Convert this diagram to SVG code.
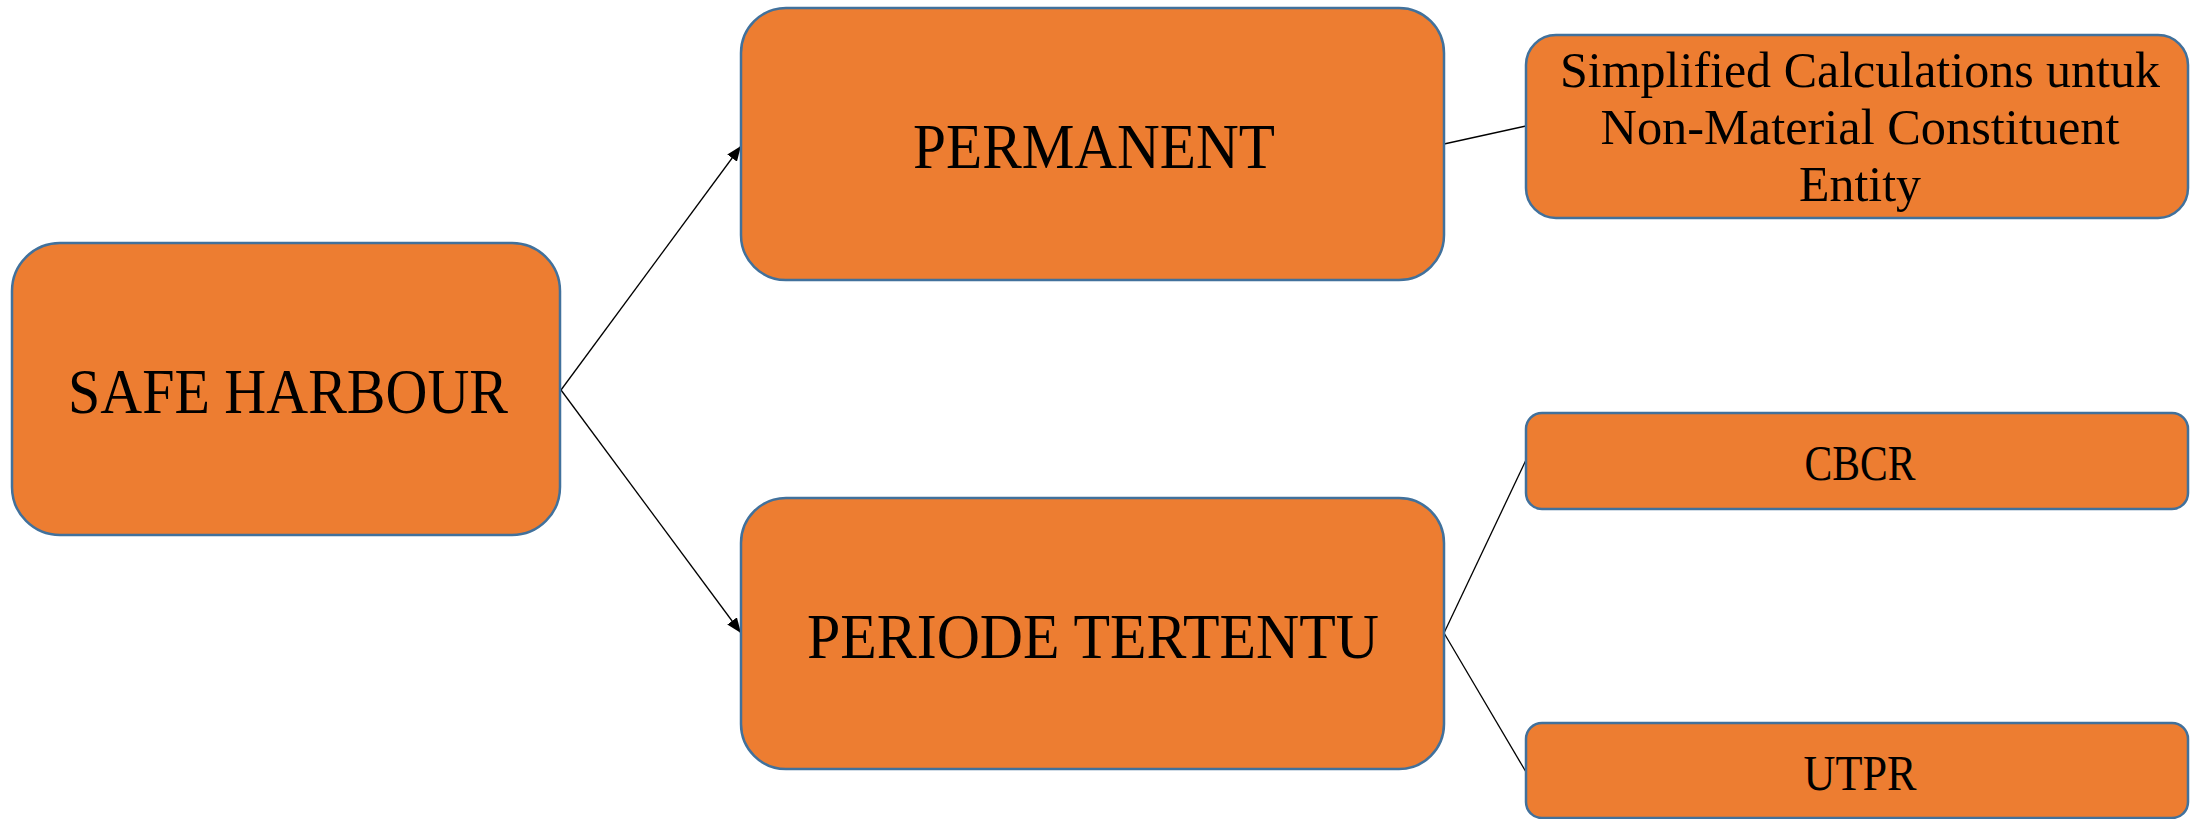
<svg xmlns="http://www.w3.org/2000/svg" width="2190" height="819" viewBox="0 0 2190 819">
  <style>
    .box { fill: #ED7D31; stroke: #41719C; stroke-width: 2.5; }
    .lbl { font-family: "Liberation Serif", "Times New Roman", serif; fill: #000; text-anchor: middle; }
    .big { font-size: 64px; }
    .small { font-size: 50px; }
    .link { stroke: #000; stroke-width: 1.3; fill: none; }
  </style>
  <defs>
    <marker id="arrow" markerUnits="userSpaceOnUse" markerWidth="16" markerHeight="12" refX="15" refY="6" orient="auto">
      <path d="M0 0 L15 6 L0 12 Z" fill="#000"/>
    </marker>
  </defs>

  <rect width="2190" height="819" fill="#fff"/>

  <!-- connectors -->
  <g id="connectors">
    <line class="link" x1="561" y1="390" x2="741" y2="146" marker-end="url(#arrow)"/>
    <line class="link" x1="561" y1="390" x2="741" y2="633" marker-end="url(#arrow)"/>
    <line class="link" x1="1444" y1="144" x2="1526" y2="126"/>
    <line class="link" x1="1444" y1="633" x2="1526" y2="460"/>
    <line class="link" x1="1444" y1="633" x2="1526" y2="772"/>
  </g>

  <!-- root -->
  <g id="safe-harbour">
    <rect class="box" x="12" y="243" width="548" height="292" rx="48" ry="48"/>
    <text class="lbl big" x="288" y="413" textLength="440" lengthAdjust="spacingAndGlyphs">SAFE HARBOUR</text>
  </g>

  <!-- branches -->
  <g id="permanent">
    <rect class="box" x="741" y="8" width="703" height="272" rx="45" ry="45"/>
    <text class="lbl big" x="1094" y="168" textLength="362" lengthAdjust="spacingAndGlyphs">PERMANENT</text>
  </g>

  <g id="periode-tertentu">
    <rect class="box" x="741" y="498" width="703" height="271" rx="45" ry="45"/>
    <text class="lbl big" x="1093" y="658" textLength="572" lengthAdjust="spacingAndGlyphs">PERIODE TERTENTU</text>
  </g>

  <!-- leaves -->
  <g id="simplified-calculations">
    <rect class="box" x="1526" y="35" width="662" height="183" rx="30" ry="30"/>
    <text class="lbl small" x="1860" y="87" textLength="600" lengthAdjust="spacingAndGlyphs">Simplified Calculations untuk</text>
    <text class="lbl small" x="1860" y="144" textLength="519" lengthAdjust="spacingAndGlyphs">Non-Material Constituent</text>
    <text class="lbl small" x="1860" y="201" textLength="122" lengthAdjust="spacingAndGlyphs">Entity</text>
  </g>

  <g id="cbcr">
    <rect class="box" x="1526" y="413" width="662" height="96" rx="16" ry="16"/>
    <text class="lbl small" x="1860" y="480" textLength="111" lengthAdjust="spacingAndGlyphs">CBCR</text>
  </g>

  <g id="utpr">
    <rect class="box" x="1526" y="723" width="662" height="95" rx="16" ry="16"/>
    <text class="lbl small" x="1860" y="790" textLength="113" lengthAdjust="spacingAndGlyphs">UTPR</text>
  </g>
</svg>
